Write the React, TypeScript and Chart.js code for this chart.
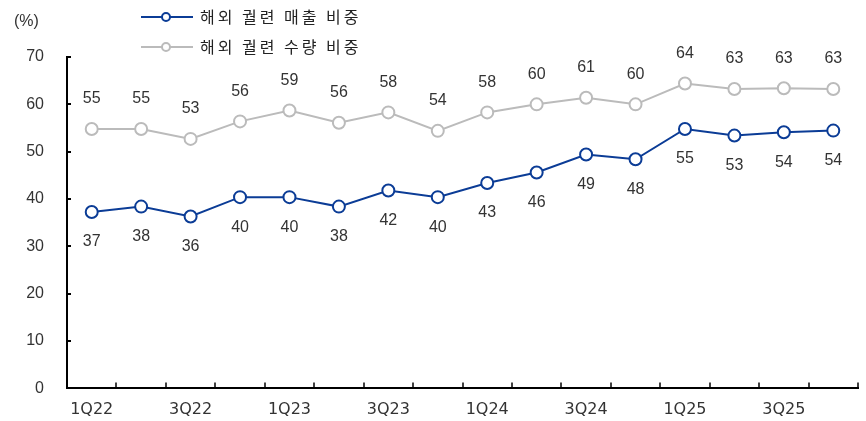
import React, { useEffect, useRef } from "react";
import { Chart, registerables } from "chart.js";

Chart.register(...registerables);

const categories = [
  "1Q22", "2Q22", "3Q22", "4Q22",
  "1Q23", "2Q23", "3Q23", "4Q23",
  "1Q24", "2Q24", "3Q24", "4Q24",
  "1Q25", "2Q25", "3Q25", "4Q25",
];
const salesShare = [37.25, 38.4, 36.3, 40.4, 40.4, 38.4, 41.8, 40.4, 43.4, 45.6, 49.4, 48.4, 54.8, 53.4, 54.1, 54.45];
const volumeShare = [54.8, 54.8, 52.7, 56.4, 58.7, 56.1, 58.3, 54.4, 58.3, 60.0, 61.4, 60.0, 64.4, 63.25, 63.4, 63.25];
const seriesNames = ["해외 궐련 매출 비중", "해외 궐련 수량 비중"];
const seriesColors = ["#0B3C96", "#BBBBBB"];
const yTicks = [0, 10, 20, 30, 40, 50, 60, 70];

const NUM_FONT = "16px 'Liberation Sans', Arial, sans-serif";
const KR_FONT = "16px 'Noto Sans CJK KR', sans-serif";

const overlayPlugin = {
  id: "overlay",
  afterDatasetsDraw(chart: any) {
    const ctx = chart.ctx;
    ctx.save();
    ctx.font = NUM_FONT;
    ctx.fillStyle = "#333333";
    ctx.textAlign = "center";
    ctx.textBaseline = "middle";
    chart.data.datasets.forEach((ds: any, di: number) => {
      const meta = chart.getDatasetMeta(di);
      meta.data.forEach((pt: any, i: number) => {
        const v = ds.data[i];
        const off = di === 0 ? 30 : -30;
        ctx.fillText(String(Math.round(v)), pt.x, pt.y + off);
      });
    });
    ctx.restore();
  },
  afterDraw(chart: any) {
    const ctx = chart.ctx;
    const xs = chart.scales.x;
    const ys = chart.scales.y;
    const area = chart.chartArea;
    ctx.save();
    ctx.strokeStyle = "#000000";
    ctx.lineWidth = 2;
    yTicks.forEach((v) => {
      const y = Math.round(ys.getPixelForValue(v));
      ctx.beginPath();
      ctx.moveTo(area.left, y);
      ctx.lineTo(area.left + 4, y);
      ctx.stroke();
    });
    ctx.lineWidth = 1.5;
    for (let i = 0; i <= categories.length; i++) {
      const x = Math.round(xs.getPixelForValue(i - 0.5));
      ctx.beginPath();
      ctx.moveTo(x, area.bottom);
      ctx.lineTo(x, area.bottom - 6);
      ctx.stroke();
    }
    ctx.font = NUM_FONT;
    ctx.fillStyle = "#333333";
    ctx.textAlign = "left";
    ctx.textBaseline = "middle";
    ctx.fillText("(%)", 14, 22);
    const rows = [17, 47];
    seriesNames.forEach((name, i) => {
      const y = rows[i];
      ctx.strokeStyle = seriesColors[i];
      ctx.lineWidth = 2;
      ctx.beginPath();
      ctx.moveTo(141, y);
      ctx.lineTo(193, y);
      ctx.stroke();
      ctx.beginPath();
      ctx.arc(166, y, 4, 0, Math.PI * 2);
      ctx.fillStyle = "#ffffff";
      ctx.fill();
      ctx.stroke();
      ctx.font = KR_FONT;
      (ctx as any).letterSpacing = "3px";
      ctx.fillStyle = "#222222";
      ctx.textAlign = "left";
      ctx.textBaseline = "middle";
      ctx.fillText(name, 200, y);
      (ctx as any).letterSpacing = "0px";
    });
    ctx.restore();
  },
};

export default function App() {
  const canvasRef = useRef<HTMLCanvasElement | null>(null);

  useEffect(() => {
    if (!canvasRef.current) return;
    const chart = new Chart(canvasRef.current, {
      type: "line",
      data: {
        labels: categories,
        datasets: [
          {
            label: seriesNames[0],
            data: salesShare,
            borderColor: seriesColors[0],
            backgroundColor: "#ffffff",
            pointBackgroundColor: "#ffffff",
            pointBorderColor: seriesColors[0],
            borderWidth: 2,
            pointBorderWidth: 2,
            pointRadius: 6,
            tension: 0,
          },
          {
            label: seriesNames[1],
            data: volumeShare,
            borderColor: seriesColors[1],
            backgroundColor: "#ffffff",
            pointBackgroundColor: "#ffffff",
            pointBorderColor: seriesColors[1],
            borderWidth: 2,
            pointBorderWidth: 2,
            pointRadius: 6,
            tension: 0,
          },
        ],
      },
      options: {
        animation: false,
        responsive: false,
        devicePixelRatio: 1,
        layout: { padding: { top: 57, right: 6, left: 0, bottom: 0 } },
        plugins: {
          legend: { display: false },
          tooltip: { enabled: false },
        },
        scales: {
          x: {
            offset: true,
            grid: { display: false, drawTicks: false, offset: true },
            border: { display: true, color: "#000000", width: 2 },
            ticks: {
              autoSkip: false,
              maxRotation: 0,
              padding: 12,
              color: "#333333",
              font: { family: "'DejaVu Sans', sans-serif", size: 16 },
              callback: (_v: any, i: number) => (i % 2 === 0 ? categories[i] : ""),
            },
            afterFit: (s: any) => {
              s.height = 32;
            },
          },
          y: {
            min: 0,
            max: 70,
            grid: { display: false, drawTicks: false },
            border: { display: true, color: "#000000", width: 2 },
            ticks: {
              stepSize: 10,
              padding: 23,
              color: "#333333",
              font: { family: "'Liberation Sans', Arial, sans-serif", size: 16 },
            },
            afterFit: (s: any) => {
              s.width = 67;
            },
          },
        },
      },
      plugins: [overlayPlugin],
    });
    return () => chart.destroy();
  }, []);

  return (
    <div style={{ position: "absolute", left: 0, top: 0, width: 866, height: 421, background: "#ffffff" }}>
      <canvas ref={canvasRef} width={866} height={421} />
    </div>
  );
}
